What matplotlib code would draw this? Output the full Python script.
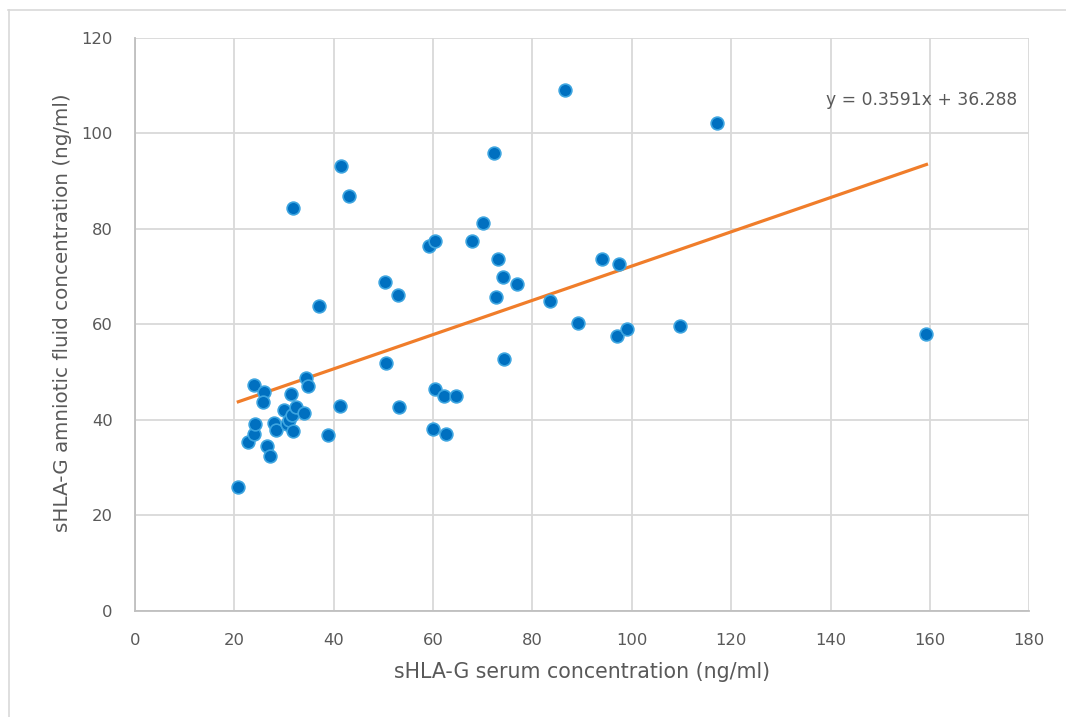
import numpy as np
import matplotlib.pyplot as plt
from matplotlib.lines import Line2D

# serum (x) vs amniotic fluid (y) sHLA-G, ng/ml
serum = [20.8, 22.8, 23.9, 24.1, 23.9, 25.9, 25.7, 26.5, 27.1, 27.9,
         28.3, 29.9, 30.6, 31.1, 31.6, 31.5, 31.8, 32.5, 34.1, 34.5,
         34.8, 31.8, 37.1, 38.9, 41.3, 41.5, 43.0, 50.3, 50.6, 53.0,
         53.2, 59.1, 60.4, 60.0, 60.4, 62.2, 62.5, 64.7, 67.9, 70.0,
         72.2, 72.7, 73.1, 74.0, 74.3, 76.8, 83.5, 86.5, 89.2, 94.0,
         97.1, 97.5, 99.1, 109.6, 117.1, 159.3]
amniotic = [25.8, 35.4, 37.1, 39.0, 47.2, 45.7, 43.7, 34.5, 32.3, 39.4,
            37.8, 42.1, 39.2, 39.9, 40.9, 45.3, 37.6, 42.6, 41.3, 48.8,
            47.1, 84.4, 63.9, 36.7, 42.8, 93.1, 86.8, 68.8, 51.8, 66.1,
            42.6, 76.5, 77.4, 38.0, 46.4, 44.9, 36.9, 44.9, 77.5, 81.2,
            96.0, 65.8, 73.7, 70.0, 52.8, 68.5, 64.9, 109.0, 60.2, 73.6,
            57.6, 72.6, 59.0, 59.7, 102.2, 57.9]
slope = 0.3591
intercept = 36.288

grey = '#595959'
plt.rcParams['font.family'] = ['DejaVu Sans']

fig = plt.figure(figsize=(10.66, 7.17), dpi=100)
ax = fig.add_axes([0.1266, 0.1485, 0.839, 0.7985])

ax.scatter(serum, amniotic, s=84, color='#0070C0', edgecolors='#3DA5E0',
           linewidths=1.2, zorder=3)

xs = np.array([min(serum), max(serum)])
ax.plot(xs, slope * xs + intercept, color='#F07D2A', lw=2.3, zorder=2)
ax.text(0.986, 0.892, 'y = %.4fx + %.3f' % (slope, intercept),
        transform=ax.transAxes, ha='right', va='center', fontsize=12.3, color=grey)

ax.set_xlim(0, 180)
ax.set_ylim(0, 120)
ax.set_xticks(np.arange(0, 181, 20))
ax.set_yticks(np.arange(0, 121, 20))
ax.grid(True, color='#D9D9D9', lw=1.3)
ax.set_axisbelow(True)
for s in ['top', 'right']:
    ax.spines[s].set_visible(False)
for s in ['left', 'bottom']:
    ax.spines[s].set_color('#BFBFBF')
    ax.spines[s].set_linewidth(1.3)
ax.tick_params(length=0, labelsize=11.8, labelcolor=grey)
ax.tick_params(axis='y', pad=16)
ax.tick_params(axis='x', pad=16)

ax.set_xlabel('sHLA-G serum concentration (ng/ml)', fontsize=14.8, color=grey, labelpad=10)
ax.set_ylabel('sHLA-G amniotic fluid concentration (ng/ml)', fontsize=14.3, color=grey)
ax.yaxis.set_label_coords(-0.07, 0.52)

# chart border (only top and left edges are visible in the crop)
fig.add_artist(Line2D([8 / 1066, 1], [1 - 10 / 717] * 2, color='#D9D9D9', lw=1.2))
fig.add_artist(Line2D([9 / 1066] * 2, [0, 1 - 10 / 717], color='#D9D9D9', lw=1.2))

fig.savefig('out.png', dpi=100, facecolor='white')
